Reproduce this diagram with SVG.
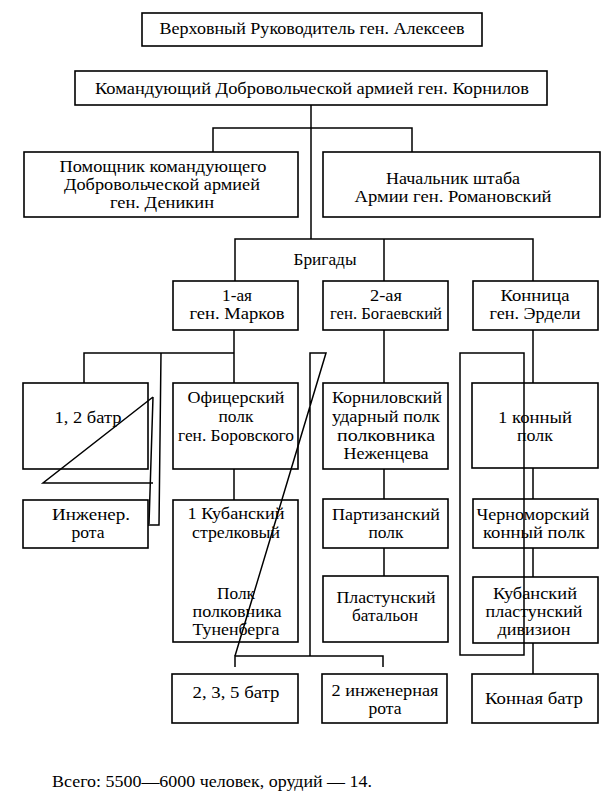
<svg xmlns="http://www.w3.org/2000/svg" width="611" height="800" viewBox="0 0 611 800">
<style>
.box{fill:#fff;stroke:#000;stroke-width:1.6}
.t{font-family:"Liberation Serif","DejaVu Serif",serif;font-size:17px;text-anchor:middle;fill:#000}
.c{fill:none;stroke:#000;stroke-width:1.5}
</style>
<rect width="611" height="800" fill="#fff"/>
<g id="n-alekseev"><rect class="box" x="142" y="13" width="340" height="33"/><text class="t" x="312" y="34" textLength="305" lengthAdjust="spacingAndGlyphs">Верховный Руководитель ген. Алексеев</text></g>
<g id="n-kornilov"><rect class="box" x="75" y="71" width="472" height="34"/><text class="t" x="312" y="94" textLength="434" lengthAdjust="spacingAndGlyphs">Командующий Добровольческой армией ген. Корнилов</text></g>
<g id="n-denikin"><rect class="box" x="24" y="152" width="274" height="65"/>
<text class="t" x="163" y="172" textLength="207" lengthAdjust="spacingAndGlyphs">Помощник командующего</text>
<text class="t" x="162" y="190" textLength="196" lengthAdjust="spacingAndGlyphs">Добровольческой армией</text>
<text class="t" x="162" y="208" textLength="104" lengthAdjust="spacingAndGlyphs">ген. Деникин</text></g>
<g id="n-romanovsky"><rect class="box" x="323" y="152" width="277" height="65"/>
<text class="t" x="453" y="184" textLength="134" lengthAdjust="spacingAndGlyphs">Начальник штаба</text>
<text class="t" x="453" y="202" textLength="197" lengthAdjust="spacingAndGlyphs">Армии ген. Романовский</text></g>
<g id="n-brigady"><text class="t" x="325" y="265" textLength="63" lengthAdjust="spacingAndGlyphs">Бригады</text></g>
<g id="n-markov"><rect class="box" x="173" y="281" width="125" height="49"/>
<text class="t" x="237" y="301" textLength="30" lengthAdjust="spacingAndGlyphs">1-ая</text>
<text class="t" x="237" y="319" textLength="95" lengthAdjust="spacingAndGlyphs">ген. Марков</text></g>
<g id="n-bogaevsky"><rect class="box" x="323" y="281" width="125" height="49"/>
<text class="t" x="386" y="301" textLength="32" lengthAdjust="spacingAndGlyphs">2-ая</text>
<text class="t" x="386" y="319" textLength="112" lengthAdjust="spacingAndGlyphs">ген. Богаевский</text></g>
<g id="n-erdeli"><rect class="box" x="473" y="281" width="125" height="49"/>
<text class="t" x="535" y="301" textLength="69" lengthAdjust="spacingAndGlyphs">Конница</text>
<text class="t" x="535" y="319" textLength="91" lengthAdjust="spacingAndGlyphs">ген. Эрдели</text></g>
<g id="n-batr12"><rect class="box" x="23" y="383" width="125" height="86"/>
<text class="t" x="88" y="423" textLength="67" lengthAdjust="spacingAndGlyphs">1, 2 батр</text></g>
<g id="n-oficersky"><rect class="box" x="173" y="383" width="125" height="86"/>
<text class="t" x="236" y="403" textLength="97" lengthAdjust="spacingAndGlyphs">Офицерский</text>
<text class="t" x="236" y="422" textLength="35" lengthAdjust="spacingAndGlyphs">полк</text>
<text class="t" x="236" y="441" textLength="116" lengthAdjust="spacingAndGlyphs">ген. Боровского</text></g>
<g id="n-kornilovsky"><rect class="box" x="323" y="383" width="125" height="86"/>
<text class="t" x="387" y="403" textLength="110" lengthAdjust="spacingAndGlyphs">Корниловский</text>
<text class="t" x="386" y="422" textLength="108" lengthAdjust="spacingAndGlyphs">ударный полк</text>
<text class="t" x="386" y="441" textLength="98" lengthAdjust="spacingAndGlyphs">полковника</text>
<text class="t" x="386" y="459" textLength="85" lengthAdjust="spacingAndGlyphs">Неженцева</text></g>
<g id="n-konny1"><rect class="box" x="472" y="383" width="126" height="85"/>
<text class="t" x="535" y="423" textLength="74" lengthAdjust="spacingAndGlyphs">1 конный</text>
<text class="t" x="535" y="441" textLength="36" lengthAdjust="spacingAndGlyphs">полк</text></g>
<g id="n-inzhener"><rect class="box" x="23" y="500" width="125" height="48"/>
<text class="t" x="91" y="520" textLength="78" lengthAdjust="spacingAndGlyphs">Инженер.</text>
<text class="t" x="88" y="538" textLength="33" lengthAdjust="spacingAndGlyphs">рота</text></g>
<g id="n-kubansky1"><rect class="box" x="173" y="500" width="125" height="142"/>
<text class="t" x="236" y="519" textLength="97" lengthAdjust="spacingAndGlyphs">1 Кубанский</text>
<text class="t" x="236" y="538" textLength="88" lengthAdjust="spacingAndGlyphs">стрелковый</text>
<text class="t" x="236" y="599" textLength="38" lengthAdjust="spacingAndGlyphs">Полк</text>
<text class="t" x="237" y="617" textLength="89" lengthAdjust="spacingAndGlyphs">полковника</text>
<text class="t" x="236" y="635" textLength="87" lengthAdjust="spacingAndGlyphs">Туненберга</text></g>
<g id="n-partizansky"><rect class="box" x="323" y="499" width="125" height="49"/>
<text class="t" x="386" y="520" textLength="108" lengthAdjust="spacingAndGlyphs">Партизанский</text>
<text class="t" x="386" y="538" textLength="35" lengthAdjust="spacingAndGlyphs">полк</text></g>
<g id="n-chernomorsky"><rect class="box" x="473" y="499" width="125" height="49"/>
<text class="t" x="533" y="520" textLength="113" lengthAdjust="spacingAndGlyphs">Черноморский</text>
<text class="t" x="534" y="538" textLength="102" lengthAdjust="spacingAndGlyphs">конный полк</text></g>
<g id="n-plastunsky"><rect class="box" x="323" y="576" width="125" height="66"/>
<text class="t" x="386" y="603" textLength="99" lengthAdjust="spacingAndGlyphs">Пластунский</text>
<text class="t" x="385" y="621" textLength="66" lengthAdjust="spacingAndGlyphs">батальон</text></g>
<g id="n-kubansky-div"><rect class="box" x="473" y="577" width="125" height="66"/>
<text class="t" x="535" y="599" textLength="84" lengthAdjust="spacingAndGlyphs">Кубанский</text>
<text class="t" x="534" y="617" textLength="97" lengthAdjust="spacingAndGlyphs">пластунский</text>
<text class="t" x="534" y="635" textLength="73" lengthAdjust="spacingAndGlyphs">дивизион</text></g>
<g id="n-batr235"><rect class="box" x="172" y="674" width="126" height="49"/>
<text class="t" x="236" y="698" textLength="87" lengthAdjust="spacingAndGlyphs">2, 3, 5 батр</text></g>
<g id="n-inzh2"><rect class="box" x="322" y="674" width="125" height="49"/>
<text class="t" x="385" y="696" textLength="107" lengthAdjust="spacingAndGlyphs">2 инженерная</text>
<text class="t" x="385" y="714" textLength="33" lengthAdjust="spacingAndGlyphs">рота</text></g>
<g id="n-konnaya"><rect class="box" x="472" y="674" width="126" height="49"/>
<text class="t" x="534" y="704" textLength="98" lengthAdjust="spacingAndGlyphs">Конная батр</text></g>
<g id="connectors">
<path class="c" d="M311,105 V239"/>
<path class="c" d="M213,152 V128 H412 V152"/>
<path class="c" d="M235,281 V239 H533 V281 M384,239 V281"/>
<path class="c" d="M234,330 V383 M84,383 V353 H234"/>
<path class="c" d="M161,353 L159,525 H148"/>
<path class="c" d="M153,397 L43,483 H153 M153,397 L149,524"/>
<path class="c" d="M234,469 V500"/>
<path class="c" d="M384,330 V383 M384,469 V499 M384,548 V576"/>
<path class="c" d="M310,656 V353 H326 L235,656"/>
<path class="c" d="M235,667 V656 H383 V667"/>
<path class="c" d="M533,330 V383 M533,468 V499 M533,548 V577 M533,643 V674"/>
<path class="c" d="M460,353 H524 V655 H460 Z"/>
</g>
<text class="t" x="52" y="787" style="text-anchor:start" textLength="320" lengthAdjust="spacingAndGlyphs">Всего: 5500—6000 человек, орудий — 14.</text>
</svg>
